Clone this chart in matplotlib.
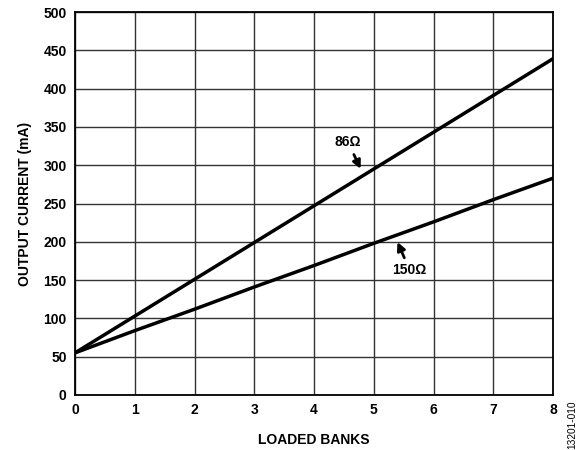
import matplotlib
matplotlib.use("Agg")
import matplotlib.pyplot as plt

plt.rcParams['font.family'] = ['Liberation Sans', 'DejaVu Sans']

# data
banks = [0, 1, 2, 3, 4, 5, 6, 7, 8]
current_86 = [55, 103, 151, 199, 247, 295, 343, 391, 439]
current_150 = [55, 84, 112, 141, 169, 198, 226, 255, 283]

fig = plt.figure(figsize=(5.79, 4.5), dpi=100)
ax = fig.add_axes([75 / 579, 55 / 450, 478 / 579, 383 / 450])

ax.plot(banks, current_86, color='black', linewidth=2.5)
ax.plot(banks, current_150, color='black', linewidth=2.5)

ax.set_xlim(0, 8)
ax.set_ylim(0, 500)
ax.set_xticks(range(0, 9))
ax.set_yticks(range(0, 501, 50))
ax.grid(True, color='#333333', linewidth=1.0)
ax.tick_params(length=0, pad=6, labelsize=10)
for lbl in ax.get_xticklabels() + ax.get_yticklabels():
    lbl.set_fontweight('bold')
for s in ax.spines.values():
    s.set_linewidth(1.3)

ax.set_xlabel('LOADED BANKS', fontsize=10, fontweight='bold', labelpad=11)
ax.set_ylabel('OUTPUT CURRENT (mA)', fontsize=10, fontweight='bold', labelpad=8)

arrow = dict(arrowstyle='-|>', color='black', lw=2.0, mutation_scale=12)
ax.annotate('86Ω', xy=(4.8, 292), xytext=(4.57, 330), ha='center', va='center',
            fontsize=10, fontweight='bold', arrowprops=arrow)
ax.annotate('150Ω', xy=(5.38, 203), xytext=(5.6, 163), ha='center', va='center',
            fontsize=10, fontweight='bold', arrowprops=arrow)

fig.text(572 / 579, 1 - 449 / 450, '13201-010', rotation=90, fontsize=7.3,
         ha='center', va='bottom')

fig.savefig('out.png', dpi=100)
